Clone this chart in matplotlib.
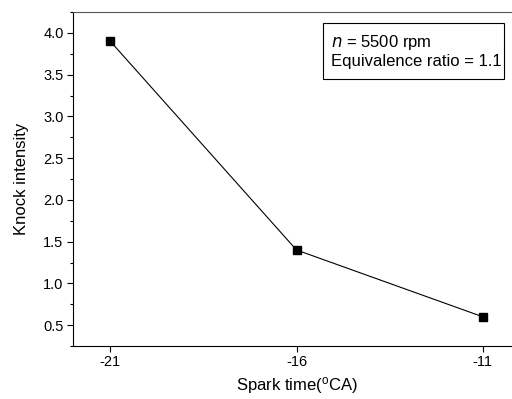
import matplotlib
matplotlib.use("Agg")
import matplotlib.pyplot as plt
from matplotlib.patches import Rectangle
from matplotlib.ticker import MultipleLocator

plt.rcParams['font.family'] = ['Liberation Sans', 'DejaVu Sans']

# data
spark_time = [-21, -16, -11]
knock = [3.9, 1.4, 0.6]
x_ticks = [-21, -16, -11]

W, H = 512, 399
fig = plt.figure(figsize=(W / 100, H / 100), dpi=100)
# right spine sits past the figure edge in the reference
ax = fig.add_axes([73 / W, 1 - 346 / H, (520 - 73) / W, (346 - 12) / H])

ax.plot(spark_time, knock, color='black', linewidth=0.8,
        marker='s', markersize=5.5, markerfacecolor='black')

ax.set_xlim(-22, -10)
ax.set_ylim(0.25, 4.25)
ax.set_xticks(x_ticks)
ax.set_xticklabels([str(v) for v in x_ticks])
ax.yaxis.set_major_locator(MultipleLocator(0.5))
ax.yaxis.set_minor_locator(MultipleLocator(0.25))
ax.yaxis.set_major_formatter(plt.FormatStrFormatter('%.1f'))

ax.tick_params(axis='both', which='major', direction='out', length=4.3, width=0.8,
               labelsize=10.5, pad=2.5)
ax.tick_params(axis='y', which='minor', direction='out', length=2.5, width=0.8)
for s in ax.spines.values():
    s.set_linewidth(0.8)
ax.spines['top'].set_color('#555555')

ax.set_xlabel('Spark time($\\mathregular{^o}$CA)', fontsize=12, labelpad=4)
ax.set_ylabel('Knock intensity', fontsize=12, labelpad=10)

# annotation box (pixel layout)
fig.patches.append(Rectangle((323 / W, 1 - 79 / H), (504 - 323) / W, (79 - 23) / H,
                             transform=fig.transFigure, facecolor='white',
                             edgecolor='black', linewidth=0.8, zorder=5))
fig.text(331 / W, 1 - 51 / H, '$\\it{n}$ = 5500 rpm\nEquivalence ratio = 1.1',
         fontsize=12, va='center', ha='left', linespacing=1.15, zorder=6)

fig.savefig('out.png', dpi=100)
